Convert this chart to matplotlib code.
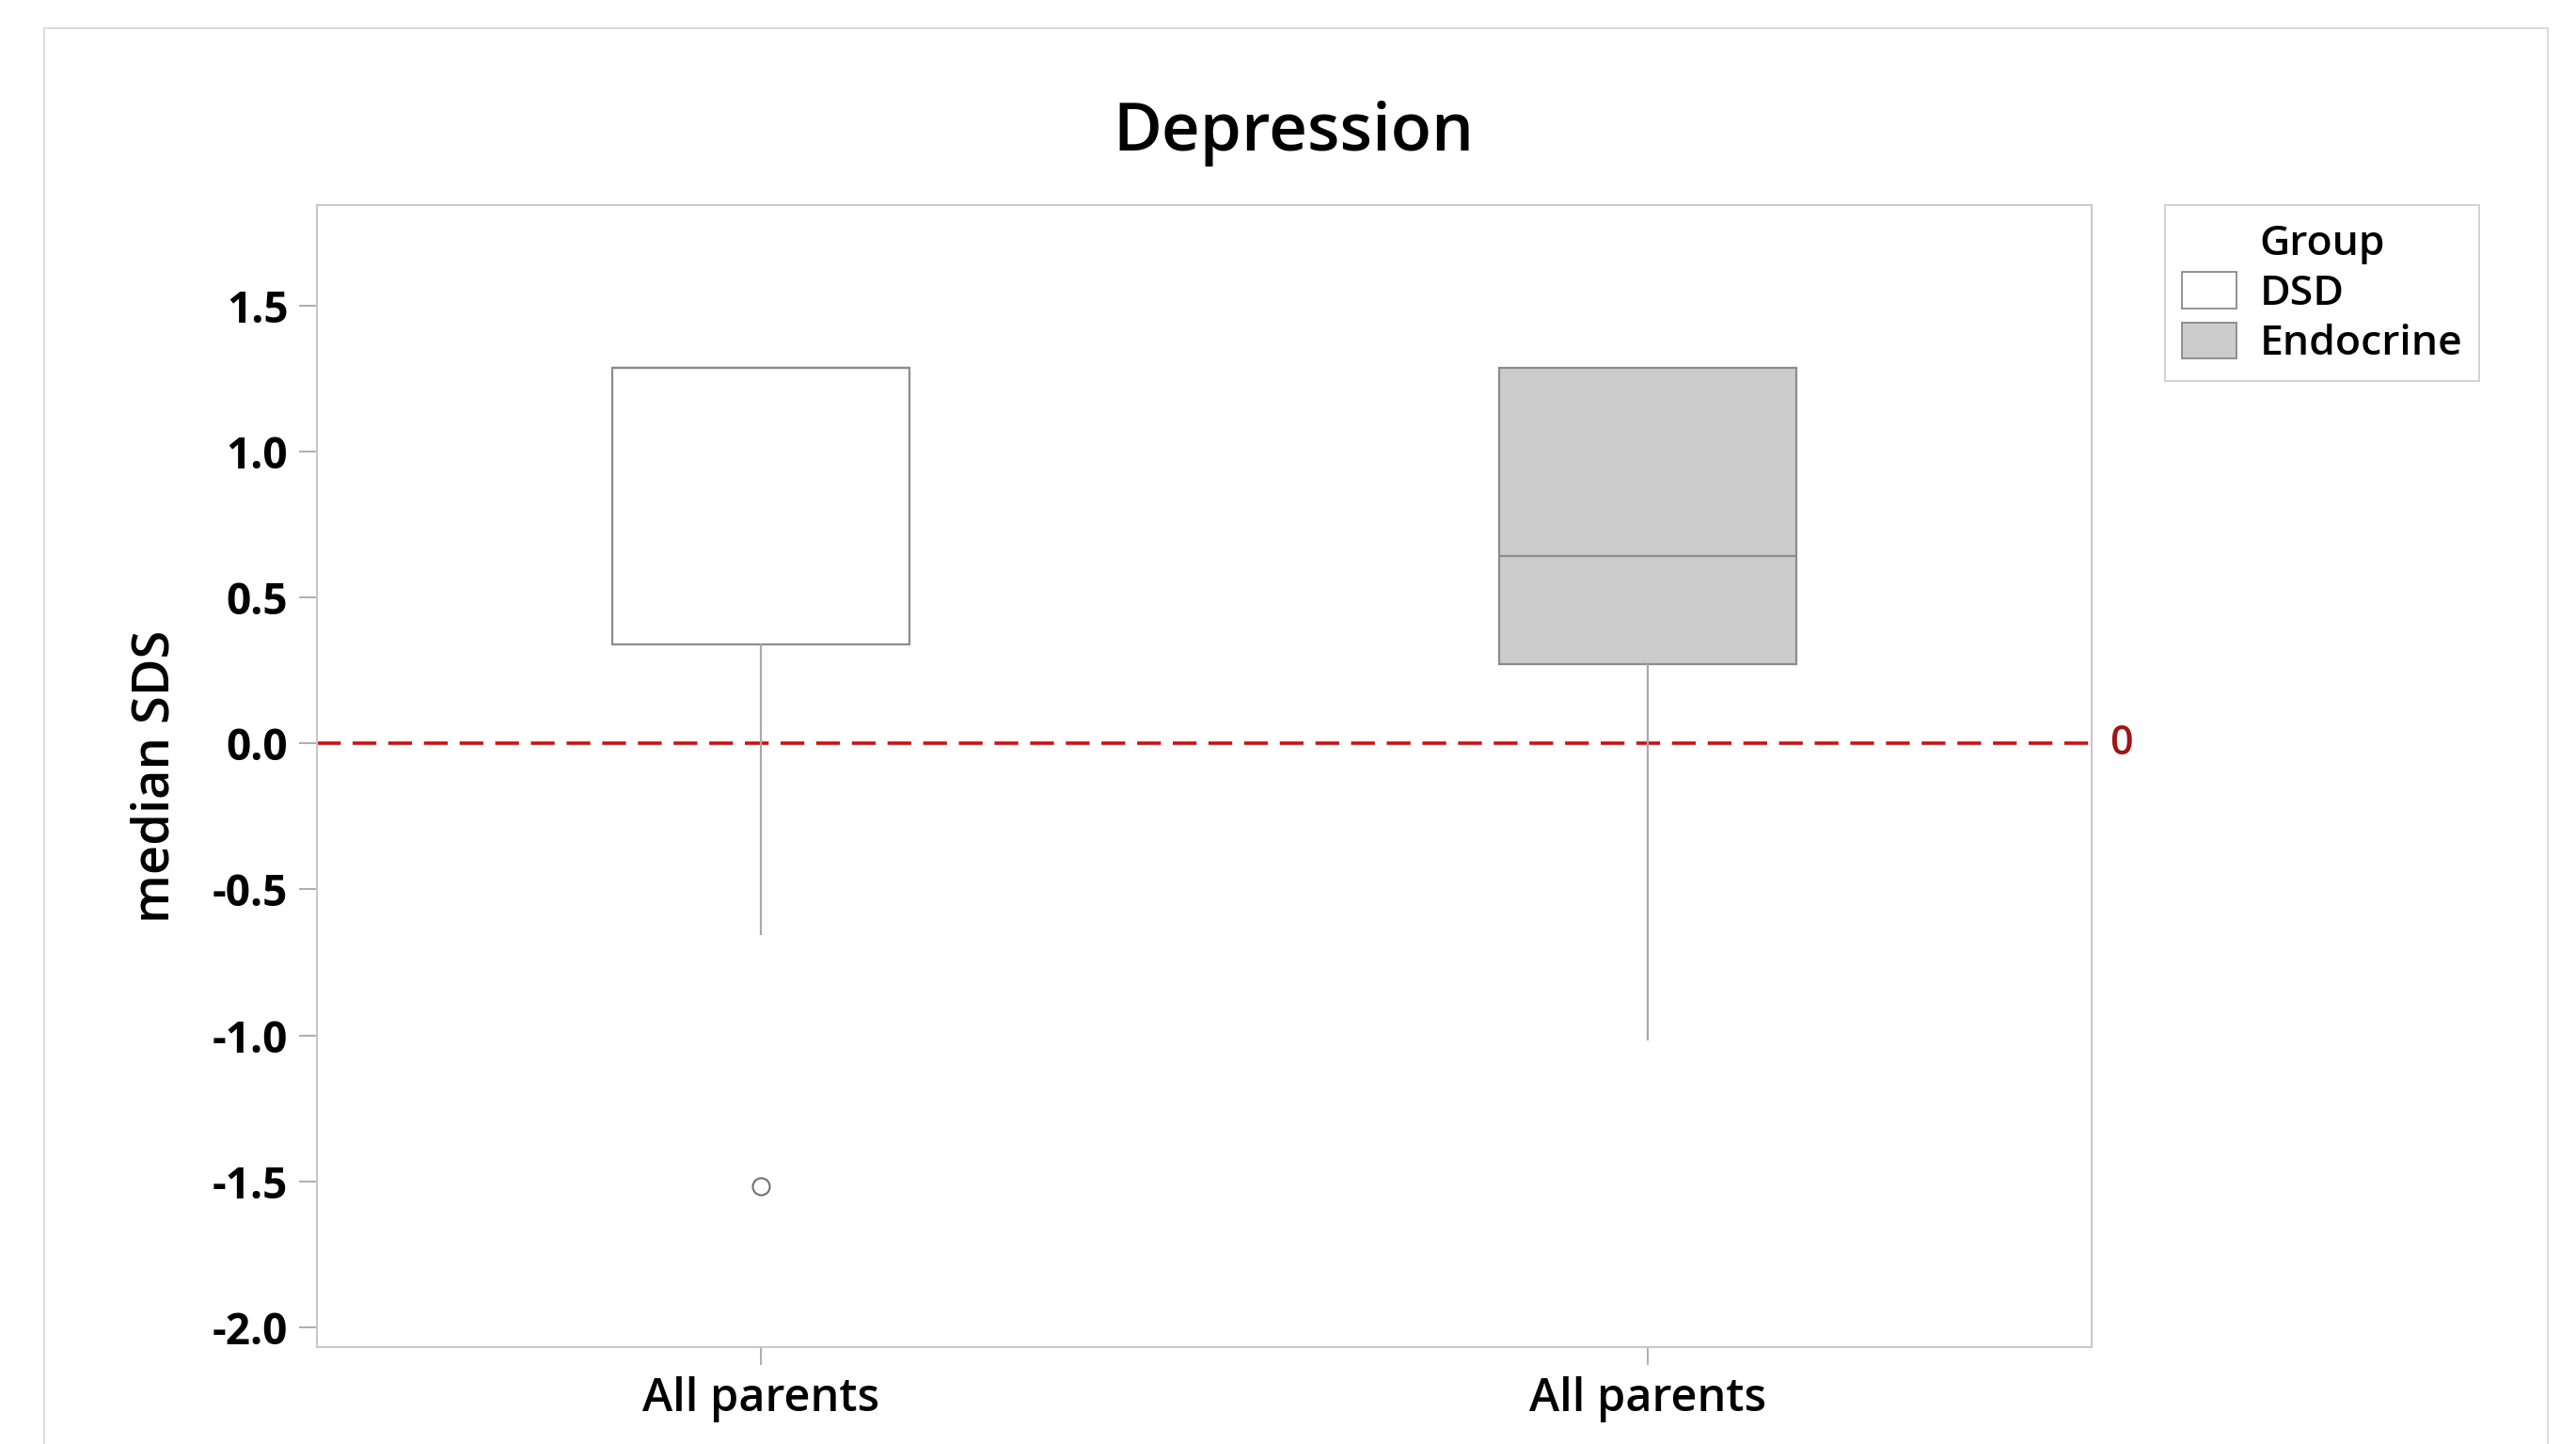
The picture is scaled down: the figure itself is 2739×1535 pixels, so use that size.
import matplotlib.pyplot as plt
from matplotlib.patches import Patch, Rectangle

plt.rcParams['font.family'] = ['Open Sans', 'DejaVu Sans']

# data
groups = ['DSD', 'Endocrine']
xlabels = ['All parents', 'All parents']
q1 = [0.338, 0.270]
med = [1.286, 0.642]
q3 = [1.286, 1.286]
whislo = [-0.654, -1.014]
whishi = [1.286, 1.286]
fliers = [[-1.515], []]
colors = ['white', '#cccccc']
yticks = [1.5, 1.0, 0.5, 0.0, -0.5, -1.0, -1.5, -2.0]

fig = plt.figure(figsize=(27.39, 15.35), dpi=100)
ax = fig.add_axes([0.123, 0.067, 0.689, 0.791])

stats = []
for i in range(2):
    stats.append(dict(q1=q1[i], med=med[i], q3=q3[i], whislo=whislo[i],
                      whishi=whishi[i], fliers=fliers[i], label=xlabels[i]))

bp = ax.bxp(stats, positions=[1, 2], widths=0.335, patch_artist=True,
            showcaps=False,
            boxprops=dict(edgecolor='#8c8c8c', linewidth=1.6),
            medianprops=dict(color='#8c8c8c', linewidth=1.6),
            whiskerprops=dict(color='#a8a8a8', linewidth=1.6),
            flierprops=dict(marker='o', markerfacecolor='none',
                            markeredgecolor='#707070', markersize=13,
                            markeredgewidth=1.5))
for b, c in zip(bp['boxes'], colors):
    b.set_facecolor(c)

## 参考线
ax.axhline(0, color='#cc1111', linestyle=(0, (7, 3.5)), linewidth=2.6, zorder=1)
ax.text(1.01, 0, '0', transform=ax.get_yaxis_transform(), color='#a01515',
        fontsize=31, fontweight='semibold', va='center', ha='left')

ax.set_xlim(0.5, 2.5)
ax.set_ylim(-2.068, 1.844)
ax.set_yticks(yticks)
ax.set_yticklabels(['%.1f' % v for v in yticks])
ax.tick_params(axis='both', direction='out', length=14, width=1.2,
               color='#a0a0a0', labelsize=33, pad=8)
for lab in ax.get_yticklabels() + ax.get_xticklabels():
    lab.set_fontweight('bold')
for lab in ax.get_xticklabels():
    lab.set_fontsize(35)
    lab.set_fontweight('semibold')
for s in ax.spines.values():
    s.set_color('#c8c8c8')
    s.set_linewidth(1.5)

ax.set_ylabel('median SDS', fontsize=39, fontweight='semibold', labelpad=24)
fig.suptitle('Depression', fontsize=51, fontweight='semibold', x=0.502, y=0.93)

## 图例
handles = [Patch(facecolor='none', edgecolor='none')]
for c in colors:
    handles.append(Patch(facecolor=c, edgecolor='#808080', linewidth=1.2))
leg = fig.legend(handles, ['Group'] + groups, loc='upper left',
                 bbox_to_anchor=(1318 / 1568, 1 - 125 / 879),
                 fontsize=32, fancybox=False, edgecolor='#c8c8c8',
                 handlelength=1.3, handleheight=0.95, handletextpad=0.55,
                 labelspacing=0.2, borderpad=0.4, borderaxespad=0)
leg.get_frame().set_linewidth(1.5)
for t in leg.get_texts():
    t.set_fontweight('semibold')

## 外框
fig.patches.append(Rectangle((27 / 1568, -0.01), (1551 - 27) / 1568, 1 - 17 / 879 + 0.01,
                             transform=fig.transFigure, fill=False,
                             edgecolor='#dcdcdc', linewidth=1.5))

plt.savefig('out.png', dpi=100)
